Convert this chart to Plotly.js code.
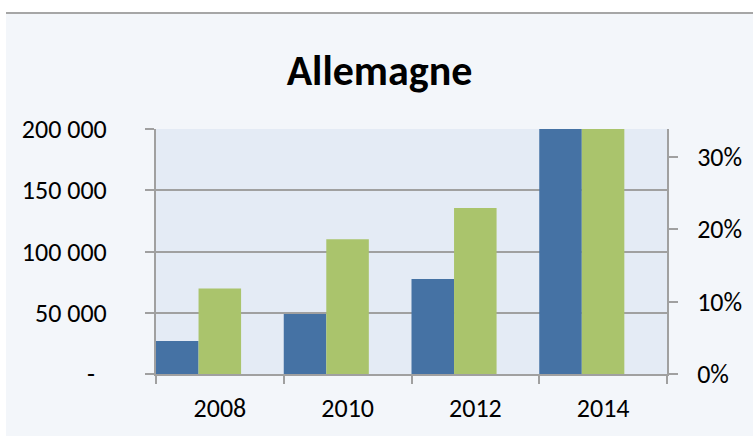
<!DOCTYPE html>
<html>
<head>
<meta charset="utf-8">
<script src="https://cdn.plot.ly/plotly-3.0.1.min.js"></script>
<style>
    body { margin: 0; background: #ffffff; }
    #chartDiv { position: absolute; left: 6px; top: 12px; width: 747px; height: 422px; border-top: 2px solid #a6a6a6; }
</style>
</head>
<body>
<div id="chartDiv"></div>
<script>
// data
let years = ['2008', '2010', '2012', '2014'];
let volumes = [27000, 49000, 77500, 210000];   // left axis
let shares = [0.118, 0.186, 0.229, 0.35];       // right axis
let leftTicks = [0, 50000, 100000, 150000, 200000];
let leftLabels = ['-\u00a0\u00a0', '50 000', '100 000', '150 000', '200 000'];
let rightTicks = [0, 0.1, 0.2, 0.3];

let fontFamily = 'Carlito, Lato, sans-serif';
let axisGray = '#a0a0a0';

let data = [
    {
        type: 'bar',
        x: years,
        y: volumes,
        yaxis: 'y',
        offset: -0.5,
        width: 0.333,
        marker: { color: '#4572a4' },
        hoverinfo: 'x+y'
    },
    {
        type: 'bar',
        x: years,
        y: shares,
        yaxis: 'y2',
        offset: -0.167,
        width: 0.333,
        marker: { color: '#aac46c' },
        hoverinfo: 'x+y'
    }
];

let layout = {
    width: 747,
    height: 422,
    margin: { l: 150, r: 86, t: 115, b: 62 },
    paper_bgcolor: '#f3f6fa',
    plot_bgcolor: '#e4ebf5',
    showlegend: false,
    barmode: 'overlay',
    font: { family: fontFamily, color: '#000000' },
    title: {
        text: '<b>Allemagne</b>',
        font: { family: fontFamily, size: 42, color: '#000000' },
        xref: 'container', x: 0.5, xanchor: 'center',
        yref: 'container', y: 1 - 56 / 422, yanchor: 'middle'
    },
    xaxis: {
        type: 'category',
        range: [-0.5, 3.5],
        tickson: 'boundaries',
        ticks: 'outside', ticklen: 8, tickwidth: 2, tickcolor: axisGray,
        showline: true, linecolor: axisGray, linewidth: 2,
        showgrid: false, zeroline: false,
        tickfont: { size: 26 },
        ticklabelstandoff: 10
    },
    yaxis: {
        range: [0, 200000],
        tickmode: 'array', tickvals: leftTicks, ticktext: leftLabels,
        ticks: 'outside', ticklen: 9, tickwidth: 2, tickcolor: axisGray,
        showline: true, linecolor: axisGray, linewidth: 2,
        showgrid: true, gridcolor: axisGray, gridwidth: 2,
        zeroline: false,
        tickfont: { size: 26 },
        ticklabelstandoff: 33
    },
    yaxis2: {
        overlaying: 'y',
        side: 'right',
        range: [0, 0.338],
        tickmode: 'array', tickvals: rightTicks, tickformat: '.0%',
        ticks: 'outside', ticklen: 9, tickwidth: 2, tickcolor: axisGray,
        showline: true, linecolor: axisGray, linewidth: 2,
        showgrid: false, zeroline: false,
        tickfont: { size: 26 },
        ticklabelstandoff: 14
    }
};

Plotly.newPlot('chartDiv', data, layout, { displayModeBar: false, staticPlot: true });
</script>
</body>
</html>
